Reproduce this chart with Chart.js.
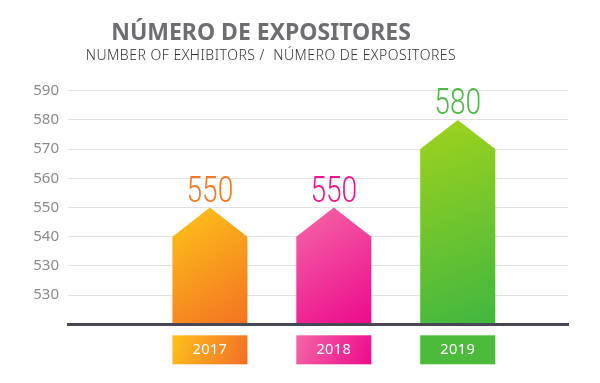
<!DOCTYPE html>
<html>
<head>
<meta charset="utf-8">
<script src="https://cdn.jsdelivr.net/npm/chart.js@4.4.1/dist/chart.umd.min.js"></script>
<style>
  html, body { margin: 0; padding: 0; background: #fff; }
  #wrap { width: 600px; height: 383px; }
</style>
</head>
<body>
<div id="wrap"><canvas id="myChart"></canvas></div>
<script>
var years = ['2017', '2018', '2019'];
var exhibitors = [550, 550, 580];
var yTickLabels = ['530', '530', '540', '550', '560', '570', '580', '590']; // 520..590, as printed
var yMin = 510, yMax = 590;
var titleText = 'NÚMERO DE EXPOSITORES';
var subtitleText = 'NUMBER OF EXHIBITORS /  NÚMERO DE EXPOSITORES';

var barColors = [
  ['#fdc419', '#f37322'],
  ['#f567a7', '#ec0a8b'],
  ['#a0d31c', '#40b73f']
];
var boxColors = [
  ['#fdc21a', '#f36d28'],
  ['#f566a6', '#ec0b8b'],
  ['#4cbb3b', '#4cbb3b']
];
var valueColors = ['#f47721', '#ec178d', '#4cb947'];
var headSize = 10; // arrow head, in axis units

var arrowBars = {
  id: 'arrowBars',
  beforeDraw: function (chart) {
    var ctx = chart.ctx;
    ctx.save();
    ctx.textAlign = 'center';
    ctx.textBaseline = 'alphabetic';
    ctx.fillStyle = '#6d6e71';
    ctx.font = 'bold 23px "Noto Sans", sans-serif';
    ctx.fillText(titleText, 261, 40);
    ctx.fillStyle = '#333333';
    ctx.font = '300 14px "Noto Sans", sans-serif';
    ctx.letterSpacing = '0.5px';
    ctx.fillText(subtitleText, 271, 60);
    ctx.restore();
  },
  afterDatasetsDraw: function (chart) {
    var ctx = chart.ctx;
    var y = chart.scales.y;
    var area = chart.chartArea;
    chart.getDatasetMeta(0).data.forEach(function (bar, i) {
      var half = bar.width / 2;
      var left = bar.x - half, right = bar.x + half;
      var shoulder = y.getPixelForValue(exhibitors[i] - headSize);
      ctx.save();
      var g = ctx.createLinearGradient(left, bar.y, right, bar.base);
      g.addColorStop(0, barColors[i][0]);
      g.addColorStop(1, barColors[i][1]);
      ctx.fillStyle = g;
      ctx.beginPath();
      ctx.moveTo(left, bar.base);
      ctx.lineTo(left, shoulder);
      ctx.lineTo(bar.x, bar.y);
      ctx.lineTo(right, shoulder);
      ctx.lineTo(right, bar.base);
      ctx.closePath();
      ctx.fill();

      // value above the arrow
      ctx.fillStyle = valueColors[i];
      ctx.font = '300 37px Roboto, "DejaVu Sans Condensed", sans-serif';
      ctx.textAlign = 'center';
      ctx.textBaseline = 'alphabetic';
      ctx.translate(bar.x, bar.y - 6);
      ctx.scale(0.76, 1);
      ctx.fillText(String(exhibitors[i]), 0, 0);
      ctx.restore();

      // year box under the axis
      ctx.save();
      var top = area.bottom + 11;
      var bg = ctx.createLinearGradient(left, top, right, top + 29);
      bg.addColorStop(0, boxColors[i][0]);
      bg.addColorStop(1, boxColors[i][1]);
      ctx.fillStyle = bg;
      ctx.fillRect(left, top, bar.width, 29);
      ctx.fillStyle = '#ffffff';
      ctx.font = '14.5px "Noto Sans", sans-serif';
      ctx.letterSpacing = '0.4px';
      ctx.textAlign = 'center';
      ctx.textBaseline = 'middle';
      ctx.fillText(years[i], bar.x, top + 15);
      ctx.restore();
    });
  }
};

var ctx = document.getElementById('myChart').getContext('2d');
var myChart = new Chart(ctx, {
  type: 'bar',
  data: {
    datasets: [{
      label: 'Exhibitors',
      data: exhibitors.map(function (v, i) { return { x: i, y: v }; }),
      backgroundColor: 'rgba(0,0,0,0)',
      base: yMin,
      barThickness: 75
    }]
  },
  options: {
    responsive: true,
    maintainAspectRatio: false,
    animation: false,
    layout: { padding: { top: 90.7, right: 32, left: 0, bottom: 0 } },
    plugins: {
      legend: { display: false },
      tooltip: { enabled: false }
    },
    scales: {
      x: {
        type: 'linear',
        offset: false,
        min: -1.145,
        max: 2.89,
        grid: { display: false, offset: false },
        ticks: { display: false },
        border: { display: true, color: '#474756', width: 3, z: 1 },
        afterFit: function (scale) { scale.height = 58.7; }
      },
      y: {
        min: yMin,
        max: yMax,
        grid: {
          drawTicks: false,
          color: function (c) { return c.tick.value === yMin ? 'rgba(0,0,0,0)' : '#e2e2e2'; }
        },
        border: { display: false },
        ticks: {
          stepSize: 10,
          padding: 9,
          color: '#8b8b8b',
          font: { family: '"Noto Sans", sans-serif', size: 15 },
          callback: function (value, index) { return index === 0 ? '' : yTickLabels[index - 1]; }
        },
        afterFit: function (scale) { scale.width = 68; }
      }
    }
  },
  plugins: [arrowBars]
});
</script>
</body>
</html>
